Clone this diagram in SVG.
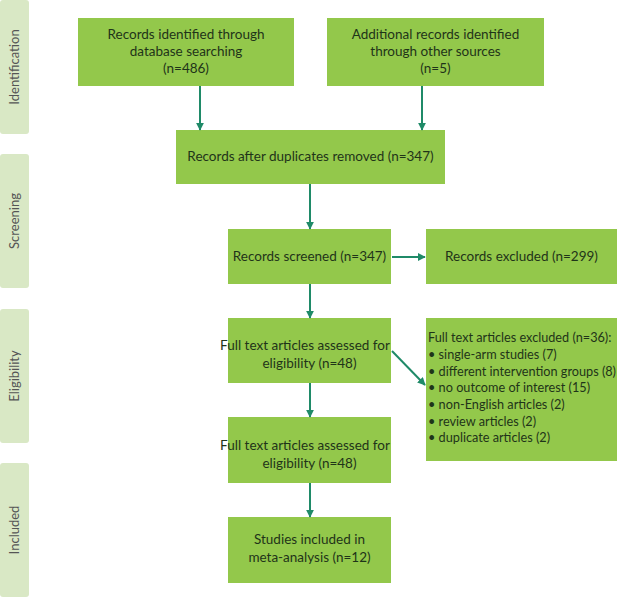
<svg xmlns="http://www.w3.org/2000/svg" width="621" height="598" viewBox="0 0 621 598">
<defs>
<style>
.side{fill:#d9e8c5;}
.sidetxt{font-family:Lato,"Liberation Sans",sans-serif;font-size:13px;fill:#555;text-anchor:middle;}
.box{fill:#93c84b;}
.t{font-family:Lato,"Liberation Sans",sans-serif;font-size:13.5px;fill:#1f3419;text-anchor:middle;}
.tl{font-family:Lato,"Liberation Sans",sans-serif;font-size:12.7px;fill:#1f3419;}
.c{stroke:#1f8a68;stroke-width:2;fill:none;marker-end:url(#ah);}
</style>
<marker id="ah" viewBox="0 0 10 10" refX="9" refY="5" markerWidth="4" markerHeight="4" orient="auto" markerUnits="strokeWidth">
<path d="M0,0 L10,5 L0,10 z" fill="#1f8a68"/>
</marker>
</defs>
<rect width="621" height="598" fill="#fff"/>
<g id="stage-identification"><rect class="side" x="0" y="0" width="29" height="134" rx="3"/><text class="sidetxt" transform="translate(19,67) rotate(-90)">Identification</text></g>
<g id="stage-screening"><rect class="side" x="0" y="154" width="29" height="134" rx="3"/><text class="sidetxt" transform="translate(19,221) rotate(-90)">Screening</text></g>
<g id="stage-eligibility"><rect class="side" x="0" y="309" width="29" height="134" rx="3"/><text class="sidetxt" transform="translate(19,376) rotate(-90)">Eligibility</text></g>
<g id="stage-included"><rect class="side" x="0" y="463" width="29" height="134" rx="3"/><text class="sidetxt" transform="translate(19,530) rotate(-90)">Included</text></g>

<g id="n-database"><rect class="box" x="78" y="18" width="216" height="68"/>
<text class="t" x="186" y="39">Records identified through</text>
<text class="t" x="186" y="56">database searching</text>
<text class="t" x="186" y="73">(n=486)</text></g>
<g id="n-other"><rect class="box" x="327" y="18" width="217" height="68"/>
<text class="t" x="435.5" y="39">Additional records identified</text>
<text class="t" x="435.5" y="56">through other sources</text>
<text class="t" x="435.5" y="73">(n=5)</text></g>
<g id="n-dedup"><rect class="box" x="176" y="130" width="269" height="54"/>
<text class="t" x="310.5" y="161">Records after duplicates removed (n=347)</text></g>
<g id="n-screened"><rect class="box" x="228" y="229" width="163" height="55"/>
<text class="t" x="309.5" y="261">Records screened (n=347)</text></g>
<g id="n-excluded"><rect class="box" x="426" y="229" width="191" height="55"/>
<text class="t" x="521.5" y="261">Records excluded (n=299)</text></g>
<g id="n-fulltext1"><rect class="box" x="228" y="318" width="163" height="65"/>
<text class="t" x="305" y="350">Full text articles assessed for</text>
<text class="t" x="309.5" y="368">eligibility (n=48)</text></g>
<g id="n-fulltext-excl"><rect class="box" x="426" y="318" width="191" height="143"/>
<text class="tl" x="428" y="342">Full text articles excluded (n=36):</text>
<text class="tl" x="428" y="359">• single-arm studies (7)</text>
<text class="tl" x="428" y="376">• different intervention groups (8)</text>
<text class="tl" x="428" y="392">• no outcome of interest (15)</text>
<text class="tl" x="428" y="409">• non-English articles (2)</text>
<text class="tl" x="428" y="426">• review articles (2)</text>
<text class="tl" x="428" y="442">• duplicate articles (2)</text></g>
<g id="n-fulltext2"><rect class="box" x="228" y="417" width="163" height="66"/>
<text class="t" x="305" y="450">Full text articles assessed for</text>
<text class="t" x="309.5" y="468">eligibility (n=48)</text></g>
<g id="n-included"><rect class="box" x="228" y="517" width="163" height="66"/>
<text class="t" x="309.5" y="544">Studies included in</text>
<text class="t" x="309.5" y="562">meta-analysis (n=12)</text></g>

<g id="connectors">
<line class="c" x1="200" y1="86" x2="200" y2="130"/>
<line class="c" x1="422" y1="86" x2="422" y2="130"/>
<line class="c" x1="310" y1="184" x2="310" y2="229"/>
<line class="c" x1="392" y1="257" x2="425" y2="257"/>
<line class="c" x1="310" y1="284" x2="310" y2="318"/>
<line class="c" x1="392" y1="351" x2="425" y2="385"/>
<line class="c" x1="310" y1="383" x2="310" y2="417"/>
<line class="c" x1="310" y1="483" x2="310" y2="517"/>
</g>
</svg>
